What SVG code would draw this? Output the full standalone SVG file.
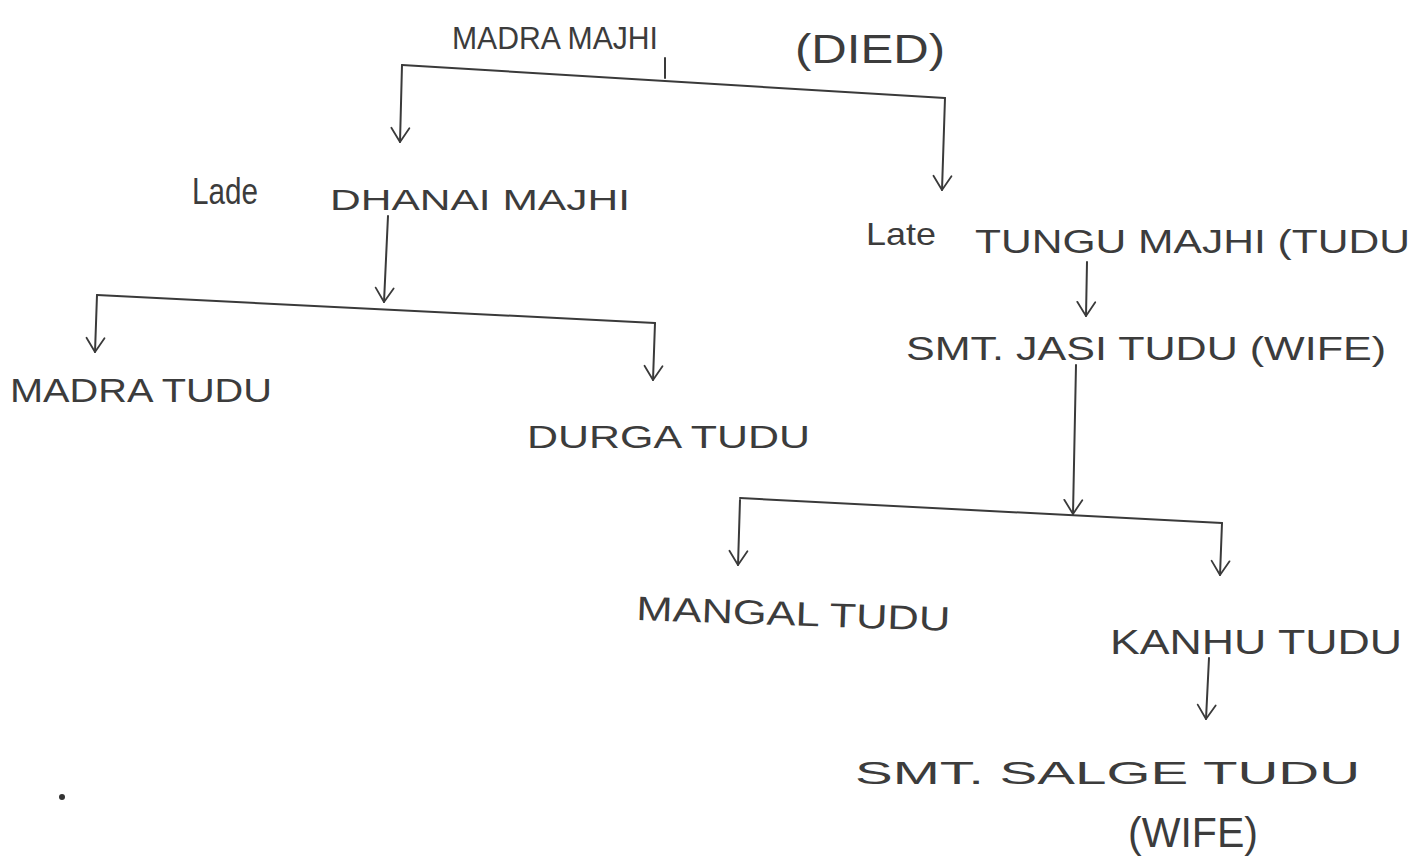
<svg xmlns="http://www.w3.org/2000/svg" width="1417" height="863" viewBox="0 0 1417 863">
<style>
.t{font-family:"Liberation Sans","DejaVu Sans",sans-serif;fill:#3c3c3c}
.c{fill:none;stroke:#3a3a3a;stroke-width:2;stroke-linecap:round}
.a{marker-end:url(#arr)}
</style>
<defs>
<marker id="arr" viewBox="0 0 24 24" refX="22" refY="12" markerWidth="24" markerHeight="24" markerUnits="userSpaceOnUse" orient="auto">
<path d="M8,3 L22,12 L8,21" fill="none" stroke="#3a3a3a" stroke-width="1.8" stroke-linecap="round" stroke-linejoin="round"/>
</marker>
</defs>
<rect width="1417" height="863" fill="#ffffff"/>
<g id="connectors">
<path class="c" d="M665,58 L665,78"/>
<path class="c" d="M402,65 L945,98"/>
<path class="c a" d="M402,65 L400,142"/>
<path class="c a" d="M945,98 L942,190"/>
<path class="c a" d="M388,216 L384,302"/>
<path class="c" d="M97,295 L655,323"/>
<path class="c a" d="M97,295 L95,352"/>
<path class="c a" d="M655,323 L653,380"/>
<path class="c a" d="M1087,262 L1086,316"/>
<path class="c a" d="M1076,365 L1073,514"/>
<path class="c" d="M740,498 L1222,523"/>
<path class="c a" d="M740,500 L738,565"/>
<path class="c a" d="M1222,523 L1220,575"/>
<path class="c a" d="M1209,658 L1206,719"/>
</g>
<g id="madra-majhi">
<text class="t" x="452" y="49" font-size="31" textLength="206" lengthAdjust="spacingAndGlyphs">MADRA MAJHI</text>
<text class="t" x="795" y="63" font-size="40" textLength="150" lengthAdjust="spacingAndGlyphs">(DIED)</text>
</g>
<g id="dhanai-majhi">
<text class="t" x="192" y="204" font-size="36" textLength="66" lengthAdjust="spacingAndGlyphs">Lade</text>
<text class="t" x="330" y="210" font-size="30" textLength="300" lengthAdjust="spacingAndGlyphs">DHANAI MAJHI</text>
</g>
<g id="tungu-majhi">
<text class="t" x="866" y="245" font-size="32" textLength="70" lengthAdjust="spacingAndGlyphs">Late</text>
<text class="t" x="975" y="253" font-size="34" textLength="435" lengthAdjust="spacingAndGlyphs">TUNGU MAJHI (TUDU</text>
</g>
<g id="jasi-tudu">
<text class="t" x="906" y="360" font-size="33" textLength="480" lengthAdjust="spacingAndGlyphs">SMT. JASI TUDU (WIFE)</text>
</g>
<g id="madra-tudu">
<text class="t" x="10" y="402" font-size="34" textLength="262" lengthAdjust="spacingAndGlyphs">MADRA TUDU</text>
</g>
<g id="durga-tudu">
<text class="t" x="527" y="448" font-size="32" textLength="283" lengthAdjust="spacingAndGlyphs">DURGA TUDU</text>
</g>
<g id="mangal-tudu">
<text class="t" x="636" y="620" font-size="34" textLength="314" lengthAdjust="spacingAndGlyphs" transform="rotate(2 636 620)">MANGAL TUDU</text>
</g>
<g id="kanhu-tudu">
<text class="t" x="1110" y="654" font-size="35" textLength="292" lengthAdjust="spacingAndGlyphs">KANHU TUDU</text>
</g>
<g id="salge-tudu">
<text class="t" x="855" y="784" font-size="31" textLength="505" lengthAdjust="spacingAndGlyphs">SMT. SALGE TUDU</text>
<text class="t" x="1128" y="847" font-size="42" textLength="130" lengthAdjust="spacingAndGlyphs">(WIFE)</text>
</g>
<circle cx="62" cy="797" r="3" fill="#333"/>
</svg>
